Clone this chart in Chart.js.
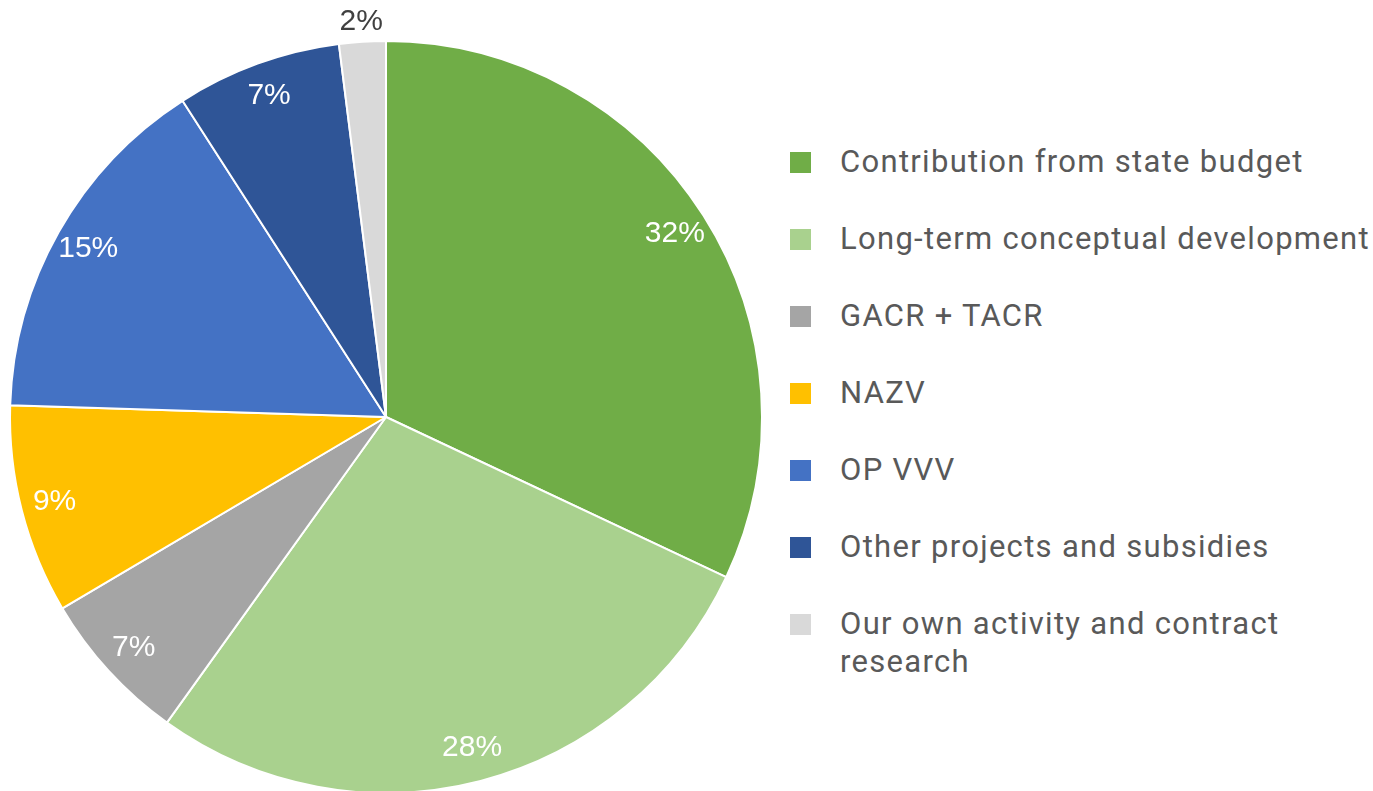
<!DOCTYPE html>
<html>
<head>
<meta charset="utf-8">
<script src="https://cdn.jsdelivr.net/npm/chart.js@4"></script>
<style>
  html, body { margin: 0; padding: 0; background: #fff; overflow: hidden; }
  #wrap { position: absolute; left: 0; top: 0; width: 772px; height: 800px; }
  #legend { position: absolute; left: 790px; top: 143px; width: 580px;
    font-family: Roboto, "Noto Sans", sans-serif; font-size: 31px; letter-spacing: 1.3px; color: #595959; }
  .item { display: flex; align-items: flex-start; height: 77px; line-height: 38px; }
  .box { width: 21px; height: 21px; margin-top: 9px; margin-right: 29px; flex: none; }
</style>
</head>
<body>
<div id="wrap"><canvas id="chart"></canvas></div>
<div id="legend"></div>
<script>
const labels = [
  'Contribution from state budget',
  'Long-term conceptual development',
  'GACR + TACR',
  'NAZV',
  'OP VVV',
  'Other projects and subsidies',
  'Our own activity and contract research'
];
// shares in % (labels show them rounded)
const shares = [32.0, 27.9, 6.6, 9.0, 15.4, 7.1, 2.0];
const colors = ['#70AD47', '#A9D18E', '#A5A5A5', '#FFC000', '#4472C4', '#2F5597', '#D9D9D9'];

// labels inside the slices, the small one outside
const sliceLabels = {
  id: 'sliceLabels',
  afterDatasetsDraw(chart) {
    const ctx = chart.ctx;
    const arcs = chart.getDatasetMeta(0).data;
    ctx.save();
    ctx.font = '30px "Liberation Sans", Arial, sans-serif';
    ctx.textAlign = 'center';
    ctx.textBaseline = 'middle';
    arcs.forEach((arc, i) => {
      const p = arc.getProps(['x', 'y', 'startAngle', 'endAngle', 'outerRadius'], true);
      const mid = (p.startAngle + p.endAngle) / 2;
      let r = p.outerRadius * 0.91;
      ctx.fillStyle = '#fff';
      if (shares[i] < 5) {
        r = p.outerRadius + 20;
        ctx.fillStyle = '#404040';
      }
      ctx.fillText(Math.round(shares[i]) + '%', p.x + Math.cos(mid) * r, p.y + Math.sin(mid) * r);
    });
    ctx.restore();
  }
};

const ctx = document.getElementById('chart').getContext('2d');
new Chart(ctx, {
  type: 'pie',
  data: {
    labels: labels,
    datasets: [{
      data: shares,
      backgroundColor: colors,
      borderColor: '#fff',
      borderWidth: 2
    }]
  },
  options: {
    responsive: true,
    maintainAspectRatio: false,
    animation: false,
    layout: { padding: { left: 9, right: 9, top: 40, bottom: 6 } },
    plugins: {
      legend: { display: false },
      tooltip: { enabled: false }
    }
  },
  plugins: [sliceLabels]
});

// legend to the right
const legend = document.getElementById('legend');
labels.forEach((name, i) => {
  const item = document.createElement('div');
  item.className = 'item';
  item.innerHTML = '<span class="box" style="background:' + colors[i] + '"></span><span>' + name + '</span>';
  legend.appendChild(item);
});
</script>
</body>
</html>
